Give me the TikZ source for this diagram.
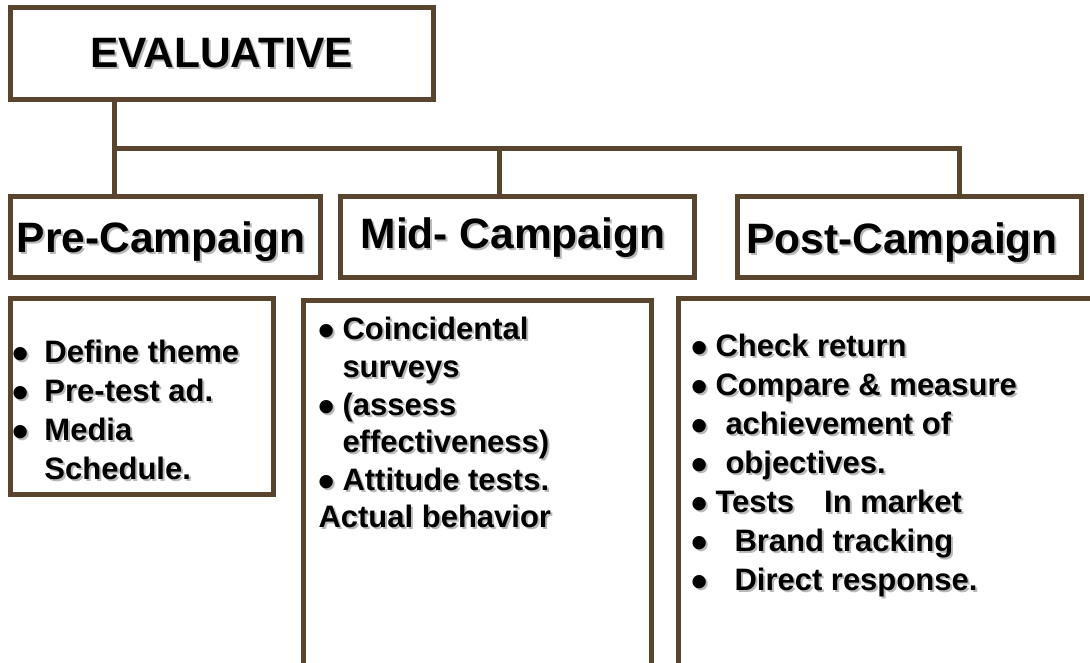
\documentclass[tikz,border=0pt]{standalone}
\usepackage{fontspec}
\setmainfont{Liberation Sans}
\usepackage{tikz}
\usetikzlibrary{positioning}
\definecolor{cbrown}{RGB}{89,69,45}
\definecolor{cshadow}{RGB}{185,185,185}
\newcommand{\shd}[1]{\rlap{\hspace{2pt}\raisebox{-2pt}{\textcolor{cshadow}{#1}}}#1}
\newcommand{\dotm}{\raisebox{-7pt}{\scalebox{1.5}{\textbullet}}}
\newcommand{\blt}[1][24pt]{\makebox[#1][l]{\shd{\dotm}}}

\begin{document}
\begin{tikzpicture}[x=1pt,y=-1pt,line width=5pt,
  head box/.style={rectangle,draw=cbrown,inner sep=0pt,text depth=0pt,
    font=\fontsize{42.5}{50}\selectfont\bfseries},
  body box/.style={rectangle,draw=cbrown,inner sep=0pt},
  body text/.style={anchor=north west,align=left,inner sep=0pt,
    font=\fontsize{31}{39}\selectfont\bfseries}]
  \useasboundingbox (0,0) rectangle (1090,662);

  \node[head box,minimum width=423pt,minimum height=92pt] (eval) at (221.5,53) {\shd{EVALUATIVE}};
  \node[head box,minimum width=310pt,minimum height=81pt] (pre) at (165,236.5) {};
  \node[head box,minimum width=354pt,minimum height=81pt] (mid) at (517,236.5) {};
  \node[head box,minimum width=344pt,minimum height=81pt] (post) at (909,236.5) {};
  \node[head box,draw=none] at (161,237) {\shd{Pre-Campaign}};
  \node[head box,draw=none] at (513,233) {\shd{Mid- Campaign}};
  \node[head box,draw=none] at (902,238) {\shd{Post-Campaign}};

  \node[body box,minimum width=263pt,minimum height=196pt] (prebody) at (141.5,396) {};
  \node[body box,minimum width=348pt,minimum height=400pt] (midbody) at (477,500) {};
  \node[body box,minimum width=442pt,minimum height=402pt] (postbody) at (899,499) {};

  \coordinate (fork) at (114,148);
  \coordinate (dmid) at (499,148);
  \coordinate (dpost) at (959,148);
  \draw[cbrown] (fork |- eval.south) -- (fork |- pre.north);
  \draw[cbrown] (fork) -| (dpost |- post.north);
  \draw[cbrown] (dmid) -- (dmid |- mid.north);

  \node[body text] (pretxt) at (10,338) {\blt[32pt]\shd{Define theme}\\
    \blt[32pt]\shd{Pre-test ad.}\\
    \blt[32pt]\shd{Media}\\
    \hspace*{32pt}\shd{Schedule.}};
  \node[body text,font=\fontsize{31}{37.6}\selectfont\bfseries] (midtxt) at (316,315) {\blt\shd{Coincidental}\\
    \hspace*{24pt}\shd{surveys}\\
    \blt\shd{(assess}\\
    \hspace*{24pt}\shd{effectiveness)}\\
    \blt\shd{Attitude tests.}\\
    \shd{Actual behavior}};
  \node[body text] (posttxt) at (689,331.5) {\blt\shd{Check return}\\
    \blt\shd{Compare \& measure}\\
    \blt\hspace*{10pt}\shd{achievement of}\\
    \blt\hspace*{10pt}\shd{objectives.}\\
    \blt\shd{Tests}\hspace*{30pt}\shd{In market}\\
    \blt\hspace*{19pt}\shd{Brand tracking}\\
    \blt\hspace*{19pt}\shd{Direct response.}};
\end{tikzpicture}
\end{document}
